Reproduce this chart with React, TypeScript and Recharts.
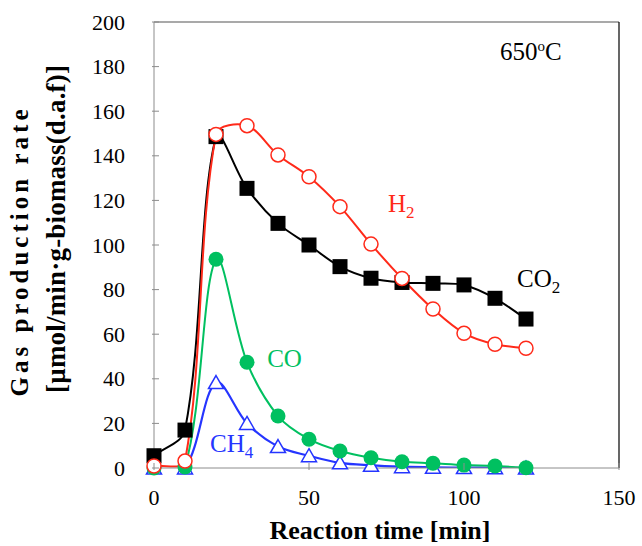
import React from 'react';
import { LineChart, Line, XAxis, YAxis, ReferenceLine, ReferenceDot } from 'recharts';

// reaction time [min]
const times = [0, 10, 20, 30, 40, 50, 60, 70, 80, 90, 100, 110, 120];
// gas production rate [µmol/min·g-biomass(d.a.f)]
const co2 = [5.5, 17, 148.6, 125.4, 109.7, 100, 90.3, 85.1, 83.2, 82.8, 82.1, 76.1, 66.8];
const h2 = [0.9, 3.1, 149.6, 153.5, 140.4, 130.6, 117.2, 100.4, 85.0, 71.3, 60.4, 55.5, 53.7];
const co = [0, 0.5, 93.6, 47.4, 23.3, 12.9, 7.6, 4.6, 2.8, 2.1, 1.3, 0.9, 0.1];
const ch4 = [0, 0, 38.3, 20.0, 9.6, 5.5, 2.3, 1.2, 0.6, 0.3, 0.2, 0.1, 0];

const xTicks = [0, 50, 100, 150];
const yTicks = [0, 20, 40, 60, 80, 100, 120, 140, 160, 180, 200];

const data = times.map((t, i) => ({ t, co2: co2[i], h2: h2[i], co: co[i], ch4: ch4[i] }));

const FONT = '"Liberation Serif", "Times New Roman", serif';
const AXIS_GREY = '#8c8c8c';
const RED = '#ff2a1a';
const GREEN = '#00c060';
const BLUE = '#2535ff';

// Excel-like smoothed line (bezier, 1/6 tension, scaled by neighbouring segment length)
function excelSmooth(context: any) {
  let pts: number[][] = [];
  return {
    areaStart() {},
    areaEnd() {},
    lineStart() {
      pts = [];
    },
    point(x: number, y: number) {
      pts.push([+x, +y]);
    },
    lineEnd() {
      const n = pts.length;
      if (!n) return;
      context.moveTo(pts[0][0], pts[0][1]);
      const dist = (a: number[], b: number[]) => Math.hypot(b[0] - a[0], b[1] - a[1]);
      for (let i = 0; i < n - 1; i++) {
        const p0 = pts[Math.max(i - 1, 0)];
        const p1 = pts[i];
        const p2 = pts[i + 1];
        const p3 = pts[Math.min(i + 2, n - 1)];
        const d01 = dist(p0, p1);
        const d12 = dist(p1, p2);
        const d23 = dist(p2, p3);
        const s1 = d01 + d12 > 0 ? (2 * d12) / (d01 + d12) : 0;
        const s2 = d12 + d23 > 0 ? (2 * d12) / (d12 + d23) : 0;
        context.bezierCurveTo(
          p1[0] + ((p2[0] - p0[0]) * s1) / 6,
          p1[1] + ((p2[1] - p0[1]) * s1) / 6,
          p2[0] - ((p3[0] - p1[0]) * s2) / 6,
          p2[1] - ((p3[1] - p1[1]) * s2) / 6,
          p2[0],
          p2[1]
        );
      }
    },
  };
}

const SquareDot = (p: any) => (
  <rect key={p.index} x={p.cx - 7.5} y={p.cy - 7.5} width={15} height={15} fill="#000" />
);
const OpenCircle = (p: any) => (
  <circle key={p.index} cx={p.cx} cy={p.cy} r={7} fill="#fff" stroke={RED} strokeWidth={1.5} />
);
const GreenCircle = (p: any) => <circle key={p.index} cx={p.cx} cy={p.cy} r={7.5} fill={GREEN} />;
const OpenTriangle = (p: any) => (
  <polygon
    key={p.index}
    points={`${p.cx},${p.cy - 7} ${p.cx + 7.5},${p.cy + 6} ${p.cx - 7.5},${p.cy + 6}`}
    fill="#fff"
    stroke={BLUE}
    strokeWidth={1.5}
  />
);

const YTick = ({ x, y, payload }: any) => (
  <g>
    <line x1={x} y1={y} x2={x + 7} y2={y} stroke={AXIS_GREY} />
    <text x={x - 27} y={y + 7.5} textAnchor="end" fontFamily={FONT} fontSize={22} fill="#000">
      {payload.value}
    </text>
  </g>
);

const XTick = ({ x, y, payload }: any) => (
  <g>
    <line x1={x} y1={y} x2={x} y2={y - 7} stroke={AXIS_GREY} />
    <text x={x} y={y + 35} textAnchor="middle" fontFamily={FONT} fontSize={22} fill="#000">
      {payload.value}
    </text>
  </g>
);

const labelText = (fill: string, main: string, sub?: string, anchor = 'start') => (p: any) => (
  <text x={p.cx} y={p.cy} fontFamily={FONT} fontSize={25} fill={fill} textAnchor={anchor}>
    {main}
    {sub && (
      <tspan dy={6} fontSize={17}>
        {sub}
      </tspan>
    )}
  </text>
);

const tempLabel = (p: any) => (
  <text x={p.cx} y={p.cy} fontFamily={FONT} fontSize={25} fill="#000" textAnchor="middle">
    650
    <tspan dy={-9} fontSize={15}>
      o
    </tspan>
    <tspan dy={9}>C</tspan>
  </text>
);

const series = [
  { key: 'ch4', color: BLUE, dot: OpenTriangle, width: 2.2 },
  { key: 'co', color: GREEN, dot: GreenCircle, width: 2 },
  { key: 'co2', color: '#000', dot: SquareDot, width: 2 },
  { key: 'h2', color: RED, dot: OpenCircle, width: 2 },
];

export default function App() {
  return (
    <div style={{ position: 'absolute', left: 0, top: 0, width: 642, height: 546, background: '#fff' }}>
      <LineChart width={642} height={546} data={data} margin={{ top: 22, right: 23, left: 94, bottom: 48 }}>
        <XAxis
          dataKey="t"
          type="number"
          domain={[0, 150]}
          ticks={xTicks}
          interval={0}
          height={30}
          tickSize={0}
          tickLine={false}
          tick={<XTick />}
          axisLine={{ stroke: AXIS_GREY }}
        />
        <YAxis
          domain={[0, 200]}
          ticks={yTicks}
          interval={0}
          width={60}
          allowDataOverflow
          tickSize={0}
          tickLine={false}
          tick={<YTick />}
          axisLine={{ stroke: AXIS_GREY }}
        />
        <YAxis yAxisId="m" hide domain={[0, 200]} />
        <ReferenceLine y={200} stroke="#555" strokeWidth={1.2} />
        <ReferenceLine x={150} stroke="#000" strokeWidth={1.2} />
        {series.flatMap((s) => [
          <Line
            key={s.key + '-line'}
            dataKey={s.key}
            type={excelSmooth as any}
            stroke={s.color}
            strokeWidth={s.width}
            dot={false}
            activeDot={false}
            isAnimationActive={false}
          />,
          <Line
            key={s.key + '-dots'}
            yAxisId="m"
            dataKey={s.key}
            stroke="none"
            dot={s.dot}
            activeDot={false}
            isAnimationActive={false}
          />,
        ])}
        <ReferenceDot x={121.6} y={183} shape={tempLabel} />
        <ReferenceDot x={75.5} y={114.8} shape={labelText(RED, 'H', '2')} />
        <ReferenceDot x={117.1} y={81.2} shape={labelText('#000', 'CO', '2')} />
        <ReferenceDot x={36.5} y={45.3} shape={labelText(GREEN, 'CO')} />
        <ReferenceDot x={18.1} y={7.2} shape={labelText(BLUE, 'CH', '4')} />
      </LineChart>
      <svg width={642} height={546} style={{ position: 'absolute', left: 0, top: 0, pointerEvents: 'none' }}>
        <text
          transform="translate(28,253) rotate(-90)"
          textAnchor="middle"
          fontFamily={FONT}
          fontWeight="bold"
          fontSize={25}
          textLength={287}
          lengthAdjust="spacing"
        >
          Gas production rate
        </text>
        <text
          transform="translate(65,229) rotate(-90)"
          textAnchor="middle"
          fontFamily={FONT}
          fontWeight="bold"
          fontSize={27}
          textLength={328}
          lengthAdjust="spacing"
        >
          [µmol/min·g-biomass(d.a.f)]
        </text>
        <text x={380} y={539} textAnchor="middle" fontFamily={FONT} fontWeight="bold" fontSize={26}>
          Reaction time [min]
        </text>
      </svg>
    </div>
  );
}
